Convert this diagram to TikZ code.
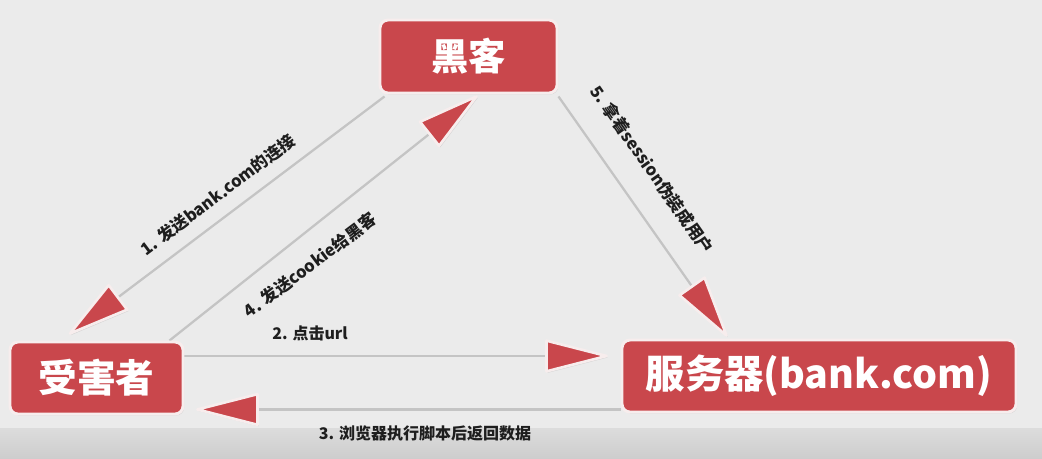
\documentclass[tikz,border=0pt]{standalone}
\usepackage{fontspec}
\newfontfamily\cjk{Noto Sans CJK SC}
\usetikzlibrary{calc,shadows}
\definecolor{bgc}{HTML}{EBEBEB}
\definecolor{bandtop}{HTML}{DCDCDC}
\definecolor{bandbot}{HTML}{CDCDCD}
\definecolor{boxred}{HTML}{C9474C}
\definecolor{rim}{HTML}{F7EDED}
\definecolor{wire}{HTML}{C4C4C4}
\definecolor{ink}{HTML}{1E1E1E}
\pgfdeclarelayer{background}
\pgfsetlayers{background,main}
\tikzset{
  actor/.style={draw=rim, line width=2.2pt, fill=boxred, rounded corners=6pt,
    text=white, inner sep=0pt,
    drop shadow={shadow xshift=0.9pt, shadow yshift=-1.1pt, opacity=0.22}},
  wireline/.style={draw=wire, line width=1.7pt},
  headtri/.style={fill=boxred, draw=rim, line width=2pt, line join=round,
    drop shadow={shadow xshift=0.9pt, shadow yshift=-1.1pt, opacity=0.22}},
  steplabel/.style={text=ink, inner sep=0pt,
    font=\cjk\bfseries\fontsize{12.5pt}{14pt}\selectfont},
}
\newcommand\redhead[2]{%
  \path ($(#1)!45pt!(#2)$) coordinate (hb);
  \filldraw[headtri] (#1) -- ($(hb)!11.5pt!90:(#1)$) -- ($(hb)!11.5pt!-90:(#1)$) -- cycle;
}
\begin{document}
\begin{tikzpicture}[x=0.75pt,y=-0.75pt]
\begin{pgfonlayer}{background}
  \fill[bgc] (0,0) rectangle (1042,458);
  \shade[top color=bandtop, bottom color=bandbot] (0,428) rectangle (1042,458);
\end{pgfonlayer}
\useasboundingbox (0,0) rectangle (1042,458);

% boxes
\node[actor, minimum width=132.75pt, minimum height=54.75pt,
  font=\cjk\bfseries\fontsize{28pt}{30pt}\selectfont] (hk) at (468.5,56.5) {黑客};
\node[actor, minimum width=129.75pt, minimum height=54pt,
  font=\cjk\bfseries\fontsize{29pt}{31pt}\selectfont] (vic) at (96.5,378) {受害者};
\node[actor, minimum width=295.5pt, minimum height=54pt,
  font=\cjk\bfseries\fontsize{29.5pt}{31pt}\selectfont] (srv) at (819,376) {服务器(bank.com)};

% connector end points
\coordinate (s1) at ($(hk.south west)+(6,2)$);
\coordinate (t1) at ($(vic.north)+(-26.5,-7)$);
\coordinate (s4) at ($(vic.north east)+(-15,0)$);
\coordinate (t4) at ($(hk.south)+(8,2)$);
\coordinate (s5) at ($(hk.south east)+(0,2)$);
\coordinate (t5) at ($(srv.north west)+(106,-3)$);
\coordinate (s2) at ($(vic.east)+(0,-22)$);
\coordinate (t2) at ($(srv.west)+(-14,-20)$);
\coordinate (s3) at ($(srv.south west)+(0,-4)$);
\coordinate (t3) at ($(vic.south east)+(13,-6)$);

\begin{pgfonlayer}{background}
  \draw[wireline] (s1) -- (t1);
  \draw[wireline] (s4) -- (t4);
  \draw[wireline] (s5) -- (t5);
  \draw[wireline] (s2) -- (t2);
  \draw[wireline] (s3) -- (t3);
\end{pgfonlayer}

\redhead{t1}{s1}
\redhead{t4}{s4}
\redhead{t5}{s5}
\redhead{t2}{s2}
\redhead{t3}{s3}

% labels
\node[steplabel, rotate=37] (l1) at (218,195) {1. 发送bank.com的连接};
\node[steplabel, rotate=37] (l4) at (310,265) {4. 发送cookie给黑客};
\node[steplabel, rotate=-55] (l5) at (652,170) {5. 拿着session伪装成用户};
\node[steplabel, font=\cjk\bfseries\fontsize{12pt}{14pt}\selectfont] (l2) at (310,333) {2. 点击url};
\node[steplabel, font=\cjk\bfseries\fontsize{12pt}{14pt}\selectfont] (l3) at (425,433) {3. 浏览器执行脚本后返回数据};
\end{tikzpicture}
\end{document}
